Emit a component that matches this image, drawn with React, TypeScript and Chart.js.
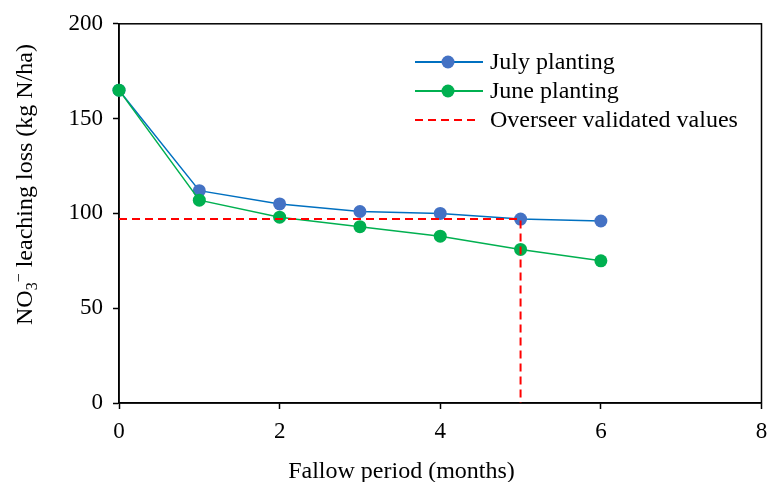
import React, { useEffect, useRef } from "react";
import { Chart, registerables } from "chart.js";

Chart.register(...registerables);

const months = [0, 1, 2, 3, 4, 5, 6];
const julyPlanting = [165, 112, 105, 101, 100, 97, 96];
const junePlanting = [165, 107, 98, 93, 88, 81, 75];
const overseerX = [0, 5, 5];
const overseerY = [97, 97, 0];
const xMin = 0;
const xMax = 8;
const xStep = 2;
const yMin = 0;
const yMax = 200;
const yStep = 50;
const seriesNames = ["July planting", "June planting", "Overseer validated values"];
const xTitle = "Fallow period (months)";
const yTitleParts = ["NO", "3", "\u2212", " leaching loss (kg N/ha)"];

const FONT = '"Liberation Serif", "Times New Roman", serif';

const legendPlugin = {
  id: "customLegend",
  afterDraw(chart: any) {
    const ctx = chart.ctx;
    const rows = [
      { y: 62, line: "#0070C0", marker: "#4472C4", dash: false },
      { y: 91, line: "#00B050", marker: "#00B050", dash: false },
      { y: 120, line: "#FF0000", marker: null, dash: true },
    ];
    ctx.save();
    ctx.font = `24px ${FONT}`;
    ctx.textBaseline = "middle";
    ctx.fillStyle = "#000";
    rows.forEach((r, i) => {
      ctx.beginPath();
      ctx.strokeStyle = r.line;
      ctx.lineWidth = 2;
      ctx.setLineDash(r.dash ? [8, 5] : []);
      ctx.moveTo(415, r.y);
      ctx.lineTo(r.dash ? 478 : 483, r.y);
      ctx.stroke();
      ctx.setLineDash([]);
      if (r.marker) {
        ctx.beginPath();
        ctx.fillStyle = r.marker;
        ctx.arc(448, r.y, 6.5, 0, Math.PI * 2);
        ctx.fill();
      }
      ctx.fillStyle = "#000";
      ctx.fillText(seriesNames[i], 490, r.y + 1);
    });
    ctx.restore();
  },
};

const titlesPlugin = {
  id: "axisTitles",
  afterDraw(chart: any) {
    const ctx = chart.ctx;
    ctx.save();
    ctx.fillStyle = "#000";
    ctx.textBaseline = "alphabetic";
    // x title
    ctx.font = `24px ${FONT}`;
    ctx.textAlign = "center";
    ctx.fillText(xTitle, 401.5, 478);
    // y title (rotated) with sub/superscript
    ctx.textAlign = "left";
    ctx.translate(32, 325);
    ctx.rotate(-Math.PI / 2);
    let x = 0;
    const pieces = [
      { t: yTitleParts[0], size: 24, dy: 0 },
      { t: yTitleParts[1], size: 16, dy: 5 },
      { t: yTitleParts[2], size: 16, dy: -8 },
      { t: yTitleParts[3], size: 24, dy: 0 },
    ];
    pieces.forEach((p) => {
      ctx.font = `${p.size}px ${FONT}`;
      ctx.fillText(p.t, x, p.dy);
      x += ctx.measureText(p.t).width;
    });
    ctx.restore();
  },
};

const framePlugin = {
  id: "frame",
  beforeDatasetsDraw(chart: any) {
    const { ctx, chartArea } = chart;
    ctx.save();
    ctx.strokeStyle = "#000";
    ctx.lineWidth = 1.5;
    ctx.strokeRect(chartArea.left, chartArea.top, chartArea.right - chartArea.left, chartArea.bottom - chartArea.top);
    ctx.restore();
  },
};

export default function App() {
  const ref = useRef<HTMLCanvasElement>(null);
  useEffect(() => {
    if (!ref.current) return;
    const chart = new Chart(ref.current, {
      type: "line",
      data: {
        datasets: [
          {
            label: seriesNames[2],
            data: overseerX.map((x, i) => ({ x, y: overseerY[i] })),
            borderColor: "#FF0000",
            borderWidth: 2,
            borderDash: [8, 5],
            pointRadius: 0,
            fill: false,
            order: 0,
          },
          {
            label: seriesNames[1],
            data: months.map((x, i) => ({ x, y: junePlanting[i] })),
            borderColor: "#00B050",
            backgroundColor: "#00B050",
            borderWidth: 1.5,
            pointRadius: 6.5,
            pointBorderWidth: 0,
            pointBackgroundColor: "#00B050",
            fill: false,
            order: 1,
          },
          {
            label: seriesNames[0],
            data: months.map((x, i) => ({ x, y: julyPlanting[i] })),
            borderColor: "#0070C0",
            backgroundColor: "#4472C4",
            borderWidth: 1.5,
            pointRadius: 6.5,
            pointBorderWidth: 0,
            pointBackgroundColor: "#4472C4",
            fill: false,
            order: 2,
          },
        ],
      },
      options: {
        animation: false,
        responsive: true,
        maintainAspectRatio: false,
        clip: false as any,
        layout: { padding: { left: 0, right: 0, top: 22, bottom: 0 } },
        plugins: {
          legend: { display: false },
          tooltip: { enabled: false },
        },
        scales: {
          x: {
            type: "linear",
            min: xMin,
            max: xMax,
            ticks: { stepSize: xStep, color: "#000", font: { family: FONT, size: 23 }, padding: 9, maxRotation: 0 },
            grid: { drawOnChartArea: false, drawTicks: true, tickLength: 6, color: "#000", tickWidth: 1.5 },
            border: { color: "#000", width: 1.5 },
            title: { display: false },
            afterFit: (s: any) => {
              s.height = 79;
              s.paddingRight = 6;
            },
          },
          y: {
            min: yMin,
            max: yMax,
            ticks: { stepSize: yStep, color: "#000", font: { family: FONT, size: 23 }, padding: 10 },
            grid: { drawOnChartArea: false, drawTicks: true, tickLength: 6, color: "#000", tickWidth: 1.5 },
            border: { color: "#000", width: 1.5 },
            title: { display: false },
            afterFit: (s: any) => {
              s.width = 119;
            },
          },
        },
      },
      plugins: [framePlugin, legendPlugin, titlesPlugin],
    });
    return () => chart.destroy();
  }, []);
  return (
    <div style={{ position: "absolute", left: 0, top: 0, width: 768, height: 482 }}>
      <canvas ref={ref} />
    </div>
  );
}
